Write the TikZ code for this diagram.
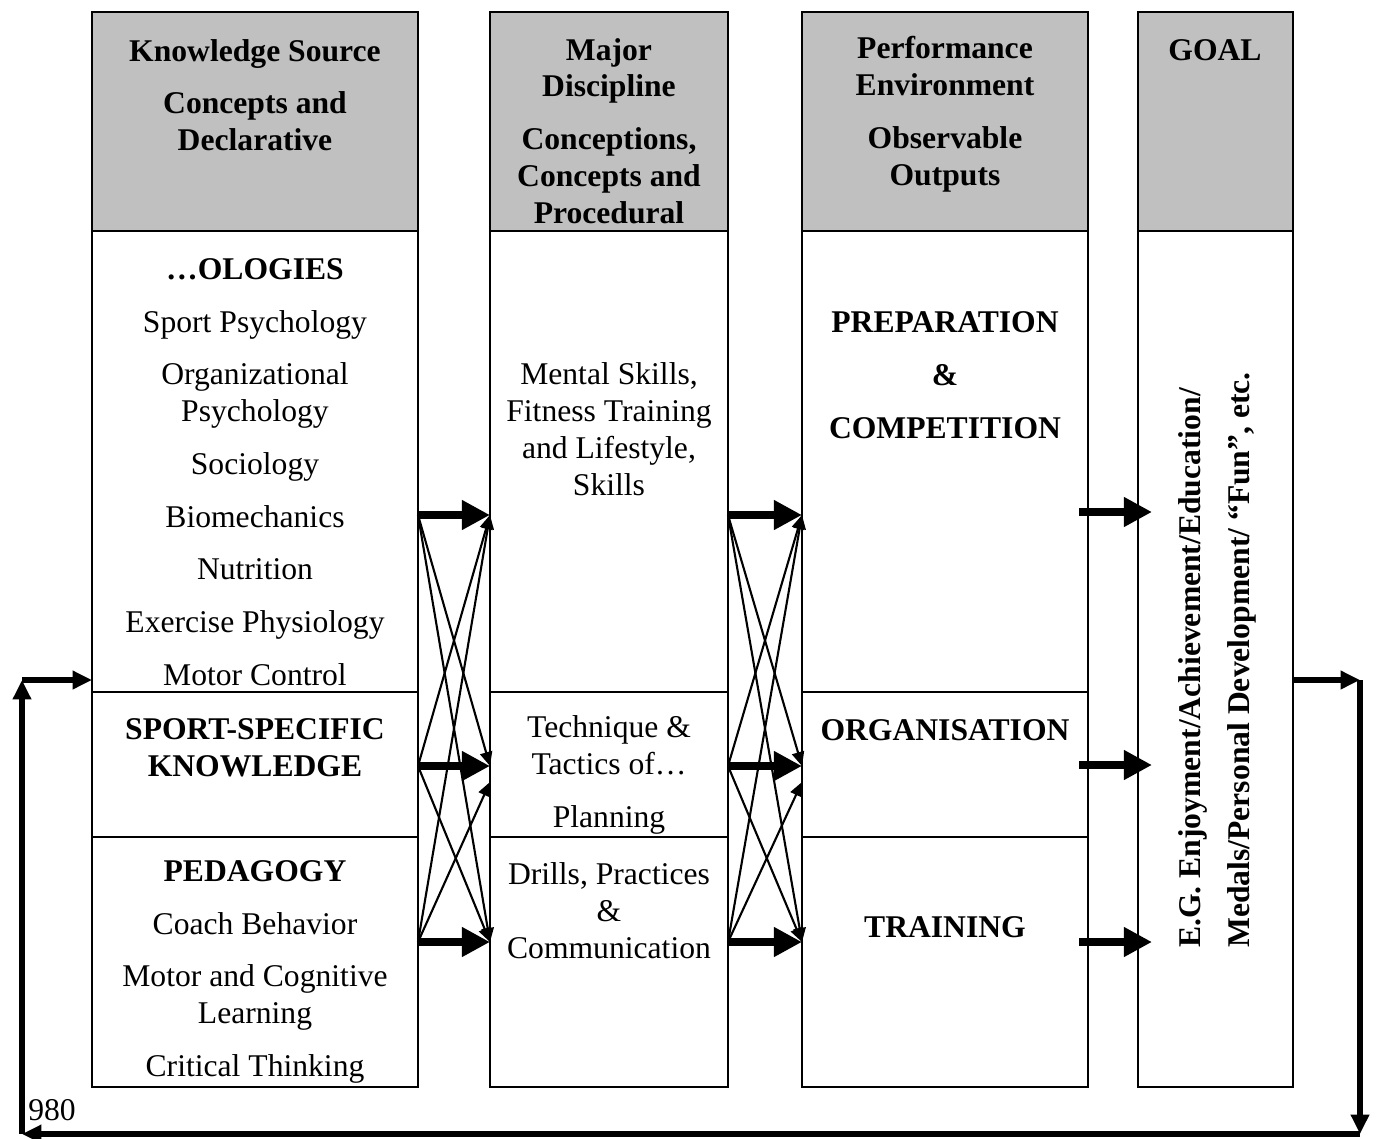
\documentclass[tikz,border=0pt]{standalone}
\usepackage{fontspec}
\setmainfont{Liberation Serif}
\usetikzlibrary{arrows.meta}
\definecolor{hdrgray}{RGB}{192,192,192}

\begin{document}
\begin{tikzpicture}[x=0.02cm,y=-0.02cm]
	\tikzstyle{every node}+=[inner sep=0pt]
	\tikzstyle{txt}=[align=center,font=\fontsize{18}{21}\selectfont]
	\tikzstyle{btxt}=[align=center,font=\fontsize{18}{21}\selectfont\bfseries]
	\tikzstyle{frame}=[line width=1.6pt]
	\tikzstyle{divider}=[line width=1.1pt]
	\tikzstyle{fat}=[line width=4.2pt,-{Triangle[length=16pt,width=16pt]}]
	\tikzstyle{cross}=[line width=1.2pt,-{Triangle[length=8pt,width=7pt]}]
	\tikzstyle{back}=[line width=3pt,-{Triangle[length=11pt,width=10pt]}]
	\useasboundingbox (0,0) rectangle (1376,1139);
	% columns
	\fill [hdrgray] (92,12) rectangle (418,231);
	\fill [hdrgray] (490,12) rectangle (728,231);
	\fill [hdrgray] (802,12) rectangle (1088,231);
	\fill [hdrgray] (1138,12) rectangle (1293,231);
	\draw [frame] (92,12) rectangle (418,1087);
	\draw [frame] (490,12) rectangle (728,1087);
	\draw [frame] (802,12) rectangle (1088,1087);
	\draw [frame] (1138,12) rectangle (1293,1087);
	\draw [frame] (92,231) -- (418,231);
	\draw [frame] (490,231) -- (728,231);
	\draw [frame] (802,231) -- (1088,231);
	\draw [frame] (1138,231) -- (1293,231);
	\draw [divider] (92,692) -- (418,692);
	\draw [divider] (92,837) -- (418,837);
	\draw [divider] (490,692) -- (728,692);
	\draw [divider] (490,837) -- (728,837);
	\draw [divider] (802,692) -- (1088,692);
	\draw [divider] (802,837) -- (1088,837);
	% headers
	\node [btxt] (ks) at (255,95) {Knowledge Source\\[9pt]Concepts and\\Declarative};
	\node [btxt] (md) at (609,131) {Major\\Discipline\\[9pt]Conceptions,\\Concepts and\\Procedural};
	\node [btxt] (pe) at (945,114) {Performance\\Environment\\[9pt]Observable\\Outputs};
	\node [btxt] (goal) at (1215,50) {GOAL};
	% knowledge source
	\node [txt] (olog) at (255,472) {\textbf{…OLOGIES}\\[9pt]Sport Psychology\\[9pt]Organizational\\Psychology\\[9pt]Sociology\\[9pt]Biomechanics\\[9pt]Nutrition\\[9pt]Exercise Physiology\\[9pt]Motor Control};
	\node [btxt] (ssk) at (255,748) {SPORT-SPECIFIC\\KNOWLEDGE};
	\node [txt] (ped) at (255,972) {\textbf{PEDAGOGY}\\[9pt]Coach Behavior\\[9pt]Motor and Cognitive\\Learning\\[9pt]Critical Thinking};
	% major discipline
	\node [txt] (skills) at (609,429) {Mental Skills,\\Fitness Training\\and Lifestyle,\\Skills};
	\node [txt] (tech) at (609,775) {Technique \&\\Tactics of…\\[9pt]Planning};
	\node [txt] (drills) at (609,911) {Drills, Practices\\\&\\Communication};
	% performance environment
	\node [btxt] (prep) at (945,375) {PREPARATION\\[9pt]\&\\[9pt]COMPETITION};
	\node [btxt] (org) at (945,730) {ORGANISATION};
	\node [btxt] (train) at (945,927) {TRAINING};
	% goal
	\node [btxt,rotate=90,anchor=west,align=left] (aims) at (1217,948) {E.G. Enjoyment/Achievement/Education/\\[7pt]Medals/Personal Development/ “Fun”, etc.};
	\node [txt,anchor=west] (code) at (28,1110) {980};
	% arrow ends
	\coordinate (k1) at (418,515);
	\coordinate (k2) at (418,766);
	\coordinate (k3) at (418,942);
	\coordinate (m1) at (490,515);
	\coordinate (m2) at (490,766);
	\coordinate (m2b) at (490,782);
	\coordinate (m3) at (490,942);
	\coordinate (d1) at (728,515);
	\coordinate (d2) at (728,766);
	\coordinate (d3) at (728,942);
	\coordinate (p1) at (802,515);
	\coordinate (p2) at (802,766);
	\coordinate (p2b) at (802,782);
	\coordinate (p3) at (802,942);
	\coordinate (q1) at (1079,512);
	\coordinate (q2) at (1079,765);
	\coordinate (q3) at (1079,942);
	\coordinate (g1) at (1152,512);
	\coordinate (g2) at (1152,765);
	\coordinate (g3) at (1152,942);
	% knowledge -> discipline
	\draw [cross] (k1) -- (m2);
	\draw [cross] (k1) -- (m3);
	\draw [cross] (k2) -- (m1);
	\draw [cross] (k2) -- (m3);
	\draw [cross] (k3) -- (m1);
	\draw [cross] (k3) -- (m2b);
	\draw [fat] (k1) -- (m1);
	\draw [fat] (k2) -- (m2);
	\draw [fat] (k3) -- (m3);
	% discipline -> performance
	\draw [cross] (d1) -- (p2);
	\draw [cross] (d1) -- (p3);
	\draw [cross] (d2) -- (p1);
	\draw [cross] (d2) -- (p3);
	\draw [cross] (d3) -- (p1);
	\draw [cross] (d3) -- (p2b);
	\draw [fat] (d1) -- (p1);
	\draw [fat] (d2) -- (p2);
	\draw [fat] (d3) -- (p3);
	% performance -> goal
	\draw [fat] (q1) -- (g1);
	\draw [fat] (q2) -- (g2);
	\draw [fat] (q3) -- (g3);
	% feedback loop
	\coordinate (r0) at (1293,680);
	\coordinate (r1) at (1360,680);
	\coordinate (r2) at (1360,1134);
	\coordinate (l2) at (22,1134);
	\coordinate (l1) at (22,680);
	\coordinate (l0) at (92,680);
	\draw [back] (r0) -- (r1);
	\draw [back] (r1) -- (r2);
	\draw [back] (r2) -- (l2);
	\draw [back] (l2) -- (l1);
	\draw [back] (l1) -- (l0);
\end{tikzpicture}
\end{document}
